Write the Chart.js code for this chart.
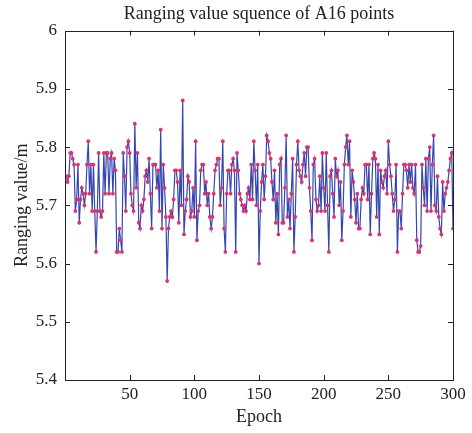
<!DOCTYPE html>
<html lang="en">
<head>
  <meta charset="UTF-8" />
  <title>Ranging value squence of A16 points</title>
  <script src="https://cdn.jsdelivr.net/npm/chart.js"></script>
  <style>
    html, body { margin: 0; padding: 0; background: #fff; }
    #rangeChart { display: block; }
  </style>
</head>
<body>
<canvas id="rangeChart" width="472" height="433"></canvas>
<script>
// ranging values, 25 epochs per row
const seg01 = [5.75, 5.74, 5.75, 5.79, 5.79, 5.78, 5.77, 5.69, 5.71, 5.77, 5.67, 5.71, 5.73, 5.72, 5.70, 5.72, 5.77, 5.81, 5.72, 5.77, 5.69, 5.77, 5.69, 5.62, 5.69];
const seg02 = [5.79, 5.69, 5.68, 5.69, 5.79, 5.72, 5.79, 5.79, 5.72, 5.78, 5.79, 5.72, 5.78, 5.76, 5.62, 5.62, 5.66, 5.64, 5.62, 5.79, 5.75, 5.69, 5.80, 5.81, 5.79];
const seg03 = [5.72, 5.70, 5.69, 5.84, 5.73, 5.79, 5.67, 5.66, 5.70, 5.69, 5.71, 5.75, 5.76, 5.74, 5.78, 5.72, 5.66, 5.77, 5.77, 5.77, 5.73, 5.76, 5.69, 5.83, 5.66];
const seg04 = [5.77, 5.73, 5.68, 5.57, 5.66, 5.68, 5.69, 5.68, 5.71, 5.76, 5.76, 5.74, 5.67, 5.76, 5.70, 5.88, 5.65, 5.69, 5.71, 5.75, 5.74, 5.68, 5.69, 5.73, 5.68];
const seg05 = [5.81, 5.64, 5.69, 5.70, 5.76, 5.77, 5.77, 5.72, 5.74, 5.70, 5.72, 5.68, 5.66, 5.68, 5.72, 5.76, 5.77, 5.78, 5.78, 5.70, 5.73, 5.81, 5.66, 5.62, 5.72];
const seg06 = [5.76, 5.76, 5.72, 5.77, 5.78, 5.76, 5.62, 5.79, 5.76, 5.72, 5.71, 5.70, 5.69, 5.70, 5.69, 5.72, 5.73, 5.71, 5.77, 5.71, 5.81, 5.76, 5.70, 5.77, 5.60];
const seg07 = [5.69, 5.74, 5.77, 5.71, 5.75, 5.82, 5.81, 5.79, 5.78, 5.74, 5.71, 5.76, 5.67, 5.72, 5.65, 5.77, 5.78, 5.67, 5.67, 5.73, 5.82, 5.68, 5.71, 5.66, 5.72];
const seg08 = [5.78, 5.62, 5.68, 5.77, 5.81, 5.76, 5.75, 5.74, 5.77, 5.79, 5.75, 5.80, 5.80, 5.73, 5.69, 5.64, 5.77, 5.78, 5.71, 5.69, 5.70, 5.75, 5.69, 5.79, 5.73];
const seg09 = [5.69, 5.79, 5.70, 5.62, 5.75, 5.76, 5.72, 5.68, 5.78, 5.75, 5.76, 5.70, 5.74, 5.64, 5.69, 5.77, 5.80, 5.82, 5.77, 5.81, 5.68, 5.76, 5.74, 5.71, 5.67];
const seg10 = [5.72, 5.66, 5.66, 5.71, 5.73, 5.72, 5.77, 5.77, 5.71, 5.77, 5.65, 5.72, 5.78, 5.79, 5.78, 5.68, 5.77, 5.65, 5.76, 5.74, 5.73, 5.75, 5.76, 5.72, 5.81];
const seg11 = [5.77, 5.75, 5.72, 5.69, 5.71, 5.77, 5.62, 5.69, 5.69, 5.66, 5.72, 5.77, 5.77, 5.76, 5.73, 5.77, 5.74, 5.77, 5.73, 5.72, 5.77, 5.64, 5.62, 5.62, 5.63];
const seg12 = [5.77, 5.73, 5.70, 5.78, 5.69, 5.78, 5.80, 5.69, 5.77, 5.82, 5.70, 5.69, 5.75, 5.68, 5.66, 5.65, 5.74, 5.69, 5.72, 5.73, 5.74, 5.76, 5.78, 5.79, 5.66];

const ranging = [].concat(seg01, seg02, seg03, seg04, seg05, seg06, seg07, seg08, seg09, seg10, seg11, seg12);
const epochs = ranging.map((v, i) => i + 1);

const xTicks = [50, 100, 150, 200, 250, 300];
const yTicks = [5.4, 5.5, 5.6, 5.7, 5.8, 5.9, 6];

const serif = '"Liberation Serif", "DejaVu Serif", serif';

// box round the plot with inward tick marks, matlab style
const boxTicks = {
  id: 'boxTicks',
  afterDatasetsDraw(chart) {
    const { ctx, chartArea: a, scales: { x, y } } = chart;
    const len = 5;
    ctx.save();
    ctx.strokeStyle = '#222';
    ctx.lineWidth = 1;
    ctx.beginPath();
    xTicks.forEach(t => {
      const px = Math.round(x.getPixelForValue(t)) + 0.5;
      ctx.moveTo(px, a.bottom); ctx.lineTo(px, a.bottom - len);
      ctx.moveTo(px, a.top); ctx.lineTo(px, a.top + len);
    });
    yTicks.forEach(t => {
      const py = Math.round(y.getPixelForValue(t)) + 0.5;
      ctx.moveTo(a.left, py); ctx.lineTo(a.left + len, py);
      ctx.moveTo(a.right, py); ctx.lineTo(a.right - len, py);
    });
    ctx.stroke();
    ctx.strokeRect(Math.round(a.left) + 0.5, Math.round(a.top) + 0.5,
      Math.round(a.right - a.left), Math.round(a.bottom - a.top));
    ctx.restore();
  }
};

new Chart(document.getElementById('rangeChart').getContext('2d'), {
  type: 'line',
  data: {
    datasets: [{
      data: epochs.map((e, i) => ({ x: e, y: ranging[i] })),
      borderColor: '#3646b0',
      borderWidth: 1.2,
      pointRadius: 1.9,
      pointBackgroundColor: '#e2306a',
      pointBorderWidth: 0,
      tension: 0
    }]
  },
  options: {
    responsive: false,
    animation: false,
    layout: { padding: { right: 19 } },
    plugins: {
      legend: { display: false },
      tooltip: { enabled: false },
      title: {
        display: true,
        fullSize: false,
        text: 'Ranging value squence of A16 points',
        color: '#222',
        font: { family: serif, size: 18, weight: 'normal' },
        padding: { top: 3, bottom: 6 }
      }
    },
    scales: {
      x: {
        type: 'linear',
        min: 0,
        max: 300,
        grid: { display: false, drawTicks: false },
        border: { display: false },
        afterBuildTicks: s => { s.ticks = xTicks.map(v => ({ value: v })); },
        afterFit: s => { s.height = 53; },
        ticks: { color: '#222', font: { family: serif, size: 17 }, padding: 4, maxRotation: 0 },
        title: {
          display: true,
          text: 'Epoch',
          color: '#222',
          font: { family: serif, size: 18 },
          padding: { top: 0, bottom: 5 }
        }
      },
      y: {
        min: 5.4,
        max: 6,
        grid: { display: false, drawTicks: false },
        border: { display: false },
        afterBuildTicks: s => { s.ticks = yTicks.map(v => ({ value: v })); },
        afterFit: s => { s.width = 65; },
        ticks: {
          color: '#222',
          font: { family: serif, size: 17 },
          padding: 8,
          callback: v => String(Math.round(v * 10) / 10)
        },
        title: {
          display: true,
          text: 'Ranging value/m',
          color: '#222',
          font: { family: serif, size: 18 },
          padding: { top: 11, bottom: 0 }
        }
      }
    }
  },
  plugins: [boxTicks]
});
</script>
</body>
</html>
